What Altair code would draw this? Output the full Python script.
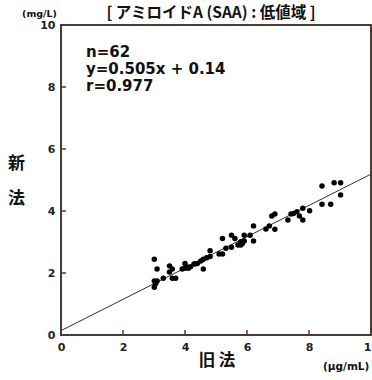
import altair as alt
import pandas as pd

old_x = [3.01, 3.10, 3.01, 3.10, 3.01, 3.30, 3.50, 3.59, 3.50, 3.59, 3.70, 3.91, 4.00, 4.00, 4.11,
         4.18, 4.29, 4.40, 4.51, 4.59, 4.59, 4.70, 4.81, 4.81, 5.10, 5.21, 5.21, 5.32, 5.50, 5.50,
         5.61, 5.71, 5.80, 5.80, 5.91, 5.91, 6.10, 6.21, 6.21, 6.61, 6.72, 6.80, 6.90, 6.90, 7.32,
         7.42, 7.61, 7.69, 7.80, 7.80, 8.02, 8.42, 8.42, 8.70, 8.81, 9.02, 9.02,
         4.05, 4.35, 5.85, 7.50, 3.05]
new_y = [2.44, 2.13, 1.74, 1.74, 1.54, 1.83, 2.23, 2.13, 2.03, 1.83, 1.83, 2.13, 2.31, 2.15, 2.15,
         2.20, 2.29, 2.31, 2.39, 2.44, 2.13, 2.49, 2.53, 2.72, 2.61, 2.61, 3.11, 2.80, 2.83, 3.22,
         3.11, 2.90, 2.90, 3.01, 3.22, 3.03, 3.22, 3.52, 3.03, 3.42, 3.52, 3.84, 3.90, 3.41, 3.71,
         3.90, 3.98, 3.84, 3.71, 4.09, 4.01, 4.81, 4.22, 4.22, 4.91, 4.91, 4.52,
         2.20, 2.30, 2.95, 3.92, 1.65]

line_x = [0, 10]
line_y = [0.505 * v + 0.14 for v in line_x]
stats = ["n=62", "y=0.505x + 0.14", "r=0.977"]
tick_vals = [2, 4, 6, 8]
axis_vals = [0, 2, 4, 6, 8, 10]

pts = pd.DataFrame({"x": old_x, "y": new_y})
ln = pd.DataFrame({"x": line_x, "y": line_y})
tk = pd.DataFrame({"v": tick_vals})

FRAME = "#4a3b3b"
LAT = "DejaVu Sans"
JP = "Noto Sans CJK JP"

xs = alt.Scale(domain=[0, 10], nice=False)
ys = alt.Scale(domain=[0, 10], nice=False)

def mkaxis():
    return alt.Axis(values=axis_vals, ticks=False, domain=False, grid=False,
                    labelFont=LAT, labelFontWeight="bold", labelFontSize=11,
                    labelColor="#222", labelPadding=6, title=None, labelFlush=False)

line = alt.Chart(ln).mark_line(color="#333", strokeWidth=1).encode(
    x=alt.X("x:Q", scale=xs, axis=mkaxis()), y=alt.Y("y:Q", scale=ys, axis=mkaxis())
)
points = alt.Chart(pts).mark_circle(size=30, color="black", opacity=1).encode(
    x=alt.X("x:Q", scale=xs),
    y=alt.Y("y:Q", scale=ys),
)
xticks = alt.Chart(tk).mark_rule(color=FRAME, strokeWidth=1.5).encode(
    x=alt.X("v:Q", scale=xs), y=alt.value(310), y2=alt.value(305)
)
yticks = alt.Chart(tk).mark_rule(color=FRAME, strokeWidth=1.5).encode(
    y=alt.Y("v:Q", scale=ys), x=alt.value(0), x2=alt.value(5)
)

def label(txt, x, y, size, font, align="center"):
    return alt.Chart(pd.DataFrame({"t": [txt]})).mark_text(
        font=font, fontWeight="bold", fontSize=size, align=align, baseline="middle",
        color="#111", clip=False
    ).encode(x=alt.value(x), y=alt.value(y), text="t:N")

labels = [
    label(stats[0], 25, 26.5, 15, LAT, "left"),
    label(stats[1], 25, 43.5, 15, LAT, "left"),
    label(stats[2], 25, 60.5, 15, LAT, "left"),
    label("[ アミロイドA (SAA) : 低値域 ]", 150, -12, 15.5, JP),
    label("(mg/L)", -21.5, -11, 9.5, LAT),
    label("新", -44.5, 138.5, 17, JP),
    label("法", -44.5, 174, 17, JP),
    label("旧  法", 156, 336, 16.5, JP),
    label("(μg/mL)", 262, 342, 10.5, LAT, "left"),
]

chart = alt.layer(line, xticks, yticks, points, *labels).properties(
    width=310, height=310,
    autosize=alt.AutoSizeParams(type="none"),
    padding={"left": 61, "top": 25, "right": 1, "bottom": 45},
    background="white",
).configure_view(stroke=FRAME, strokeWidth=2)

chart.save("out.html", embed_options={"renderer": "svg", "actions": False})
